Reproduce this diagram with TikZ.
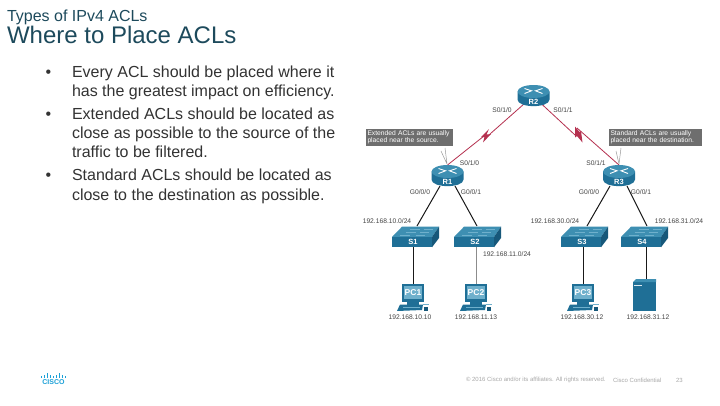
\documentclass[tikz,border=0pt]{standalone}
\usepackage{fontspec}
\setmainfont{Liberation Sans}
\definecolor{devtop}{HTML}{3E8FB2}
\definecolor{devmid}{HTML}{1F6F96}
\definecolor{devdark}{HTML}{17587A}
\definecolor{devlite}{HTML}{6FB0CC}
\definecolor{wan}{HTML}{B5304F}
\definecolor{notegray}{HTML}{6E6E6E}
\definecolor{bodytxt}{HTML}{333333}
\definecolor{titletxt}{HTML}{1D4A5C}
\definecolor{lbl}{HTML}{444444}
\definecolor{cisco}{HTML}{1BA0D7}
\definecolor{foot}{HTML}{A8A8A8}
\tikzset{
  every node/.style={inner sep=0pt,outer sep=0pt},
  titlea/.style={anchor=base west,font=\fontsize{16}{18}\selectfont,text=titletxt},
  titleb/.style={anchor=base west,font=\fontsize{24}{26}\selectfont,text=titletxt},
  bodytext/.style={anchor=base west,font=\fontsize{16}{19}\selectfont,text=bodytxt},
  devlabel/.style={font=\bfseries\fontsize{7.5}{8}\selectfont,text=white},
  pclabel/.style={font=\bfseries\fontsize{8.5}{9}\selectfont,text=white},
  iflabel/.style={font=\fontsize{6.7}{8}\selectfont,text=lbl},
  notetext/.style={fill=notegray,text=white,align=left,font=\fontsize{6.7}{7.6}\selectfont,inner xsep=1.5pt,inner ysep=1.5pt,anchor=north west},
  lan/.style={line width=1pt,black!90},
  lanlite/.style={line width=1pt,black!45},
  wanlink/.style={line width=0.8pt,wan},
  pointer/.style={line width=0.5pt,black!40},
  footnote/.style={anchor=west,font=\fontsize{6}{7}\selectfont,text=foot},
}
\newcommand{\routerdev}[3]{% name, cx, cy
  \begin{scope}[shift={(#2,#3)}]
    \fill[devmid] (-16,-4) -- (-16,4) .. controls (-16,12.8) and (16,12.8) .. (16,4) -- (16,-4) -- cycle;
    \fill[devtop] (0,-4) ellipse[x radius=16,y radius=6.5];
    \draw[white,line width=0.9pt] (-9,-7) -- (-2,-4.7) -- (-9,-2) (9,-7) -- (2,-4.7) -- (9,-2);
    \node[devlabel] (#1) at (0,6) {#1};
  \end{scope}}
\newcommand{\switchdev}[3]{% name, cx, cy (front face top level)
  \begin{scope}[shift={(#2,#3)}]
    \fill[devtop] (-23.5,0) -- (-13.5,-10.3) -- (23.5,-10.3) -- (16.5,0) -- cycle;
    \fill[devdark] (16.5,0) -- (23.5,-10.3) -- (23.5,1) -- (16.5,10.3) -- cycle;
    \fill[devmid] (-23.5,0) rectangle (16.5,10.3);
    \draw[devlite,line width=1pt] (-16,-2) -- (-6,-2) (-10,-5) -- (0,-5) (-6,-8) -- (4,-8) (0,-2) -- (9,-2) (4,-5) -- (13,-5) (8,-8) -- (17,-8);
    \node[devlabel] (#1) at (-2.5,4.9) {#1};
  \end{scope}}
\newcommand{\pcdev}[3]{% name, cx, top
  \begin{scope}[shift={(#2,#3)}]
    \fill[devmid] (-11,0) rectangle (11,18);
    \fill[devlite] (-9,2) rectangle (9,14.5);
    \fill[devmid] (-6,18) rectangle (6,20.5);
    \fill[devmid] (-13,20.5) -- (10,20.5) -- (9,26) -- (-16,27) -- cycle;
    \fill[devdark] (11,23) rectangle (15,27);
    \draw[devlite,line width=0.4pt] (10,20) -- (16,20);
    \draw[devlite,line width=0.5pt] (-10,23.5) -- (7,23.5);
    \node[pclabel] (#1) at (0,8.5) {#1};
  \end{scope}}
\begin{document}
\begin{tikzpicture}[x=1pt,y=-1pt]
\useasboundingbox[fill=white] (0,0) rectangle (720,405);

% titles
\node[titlea] (t1) at (7,21.500) {Types of IPv4 ACLs};
\node[titleb] (t2) at (7,43.500) {Where to Place ACLs};

% body
\node[bodytext] (b1) at (72,77) {Every ACL should be placed where it};
\node[bodytext] (b2) at (72,96.500) {has the greatest impact on efficiency.};
\node[bodytext] (b3) at (72,119) {Extended ACLs should be located as};
\node[bodytext] (b4) at (72,138) {close as possible to the source of the};
\node[bodytext] (b5) at (72,157) {traffic to be filtered.};
\node[bodytext] (b6) at (72,180) {Standard ACLs should be located as};
\node[bodytext] (b7) at (72,200) {close to the destination as possible.};
\node[bodytext] (d1) at (45.500,77) {•};
\node[bodytext] (d2) at (45.500,119) {•};
\node[bodytext] (d3) at (45.500,180) {•};

% anchors for links
\coordinate (cR2) at (533,96);
\coordinate (cR1) at (447.5,165);
\coordinate (cR3) at (619,165);
\coordinate (bR1a) at (440,186);
\coordinate (bR1b) at (455,186);
\coordinate (bR3a) at (610,186);
\coordinate (bR3b) at (627,186);
\coordinate (tS1) at (417,226);
\coordinate (tS2) at (477,226);
\coordinate (tS3) at (587,226);
\coordinate (tS4) at (647,226);
\coordinate (bS1) at (413,247);
\coordinate (bS2) at (476,247);
\coordinate (bS3) at (583,247);
\coordinate (bS4) at (646,247);
\coordinate (tP1) at (413,284);
\coordinate (tP2) at (476,284);
\coordinate (tP3) at (583,284);
\coordinate (tS) at (646,280);

% wired links
\draw[lan] (bR1a) -- (tS1);
\draw[lan] (bR1b) -- (tS2);
\draw[lan] (bR3a) -- (tS3);
\draw[lan] (bR3b) -- (tS4);
\draw[lan] (bS1) -- (tP1);
\draw[lanlite] (bS2) -- (tP2);
\draw[lan] (bS3) -- (tP3);
\draw[lan] (bS4) -- (tS);

% WAN links
\coordinate (z1a) at (490,134);
\coordinate (z1b) at (484,136);
\coordinate (z2a) at (575,135);
\coordinate (z2b) at (577,128);
\draw[wanlink] (cR2) -- (z1a);
\fill[wan] (489,129) -- (486.5,134.500) -- (491,134) -- (483,142.500) -- (484.500,137) -- (481,137) -- cycle;
\draw[wanlink] (z1b) -- (cR1);
\draw[wanlink] (cR2) -- (z2a);
\fill[wan] (575,126.500) -- (579.500,132) -- (581,131) -- (582.500,142.500) -- (577,136) -- (575,137.500) -- cycle;
\draw[wanlink] (z2b) -- (cR3);

% pointers
\draw[pointer] (441,151) -- (447,164) (445,148) -- (447,164);
\draw[pointer] (621,148) -- (619,164) (616,151) -- (619,164);

% devices
\routerdev{R2}{533.500}{95.500}
\routerdev{R1}{447.500}{175.500}
\routerdev{R3}{619}{175.500}
\switchdev{S1}{415.500}{237}
\switchdev{S2}{477.500}{237}
\switchdev{S3}{584.500}{237}
\switchdev{S4}{644.500}{237}
\pcdev{PC1}{413}{284}
\pcdev{PC2}{476}{284}
\pcdev{PC3}{583}{284}

% server
\fill[devmid] (633,282) rectangle (656,311);
\fill[devtop] (633,282) -- (636,279) -- (656,279) -- (656,282) -- cycle;
\draw[white!85!devmid,line width=1pt] (634,285) -- (642,285);

% notes
\node[notetext,text width=84pt] (n1) at (366,129) {Extended ACLs are usually\\placed near the source.};
\node[notetext,text width=90pt] (n2) at (609,129) {Standard ACLs are usually\\placed near the destination.};

% labels
\node[iflabel] (l1) at (502,110) {S0/1/0};
\node[iflabel] (l2) at (469.500,163) {S0/1/0};
\node[iflabel] (l3) at (563,110) {S0/1/1};
\node[iflabel] (l4) at (596,163) {S0/1/1};
\node[iflabel] (l5) at (420,192) {G0/0/0};
\node[iflabel] (l6) at (471,192) {G0/0/1};
\node[iflabel] (l7) at (589,192) {G0/0/0};
\node[iflabel] (l8) at (641,192) {G0/0/1};
\node[iflabel] (a1) at (387,221) {192.168.10.0/24};
\node[iflabel] (a2) at (507,254) {192.168.11.0/24};
\node[iflabel] (a3) at (555,221) {192.168.30.0/24};
\node[iflabel] (a4) at (679,221) {192.168.31.0/24};
\node[iflabel] (h1) at (410,317) {192.168.10.10};
\node[iflabel] (h2) at (476,317) {192.168.11.13};
\node[iflabel] (h3) at (582,317) {192.168.30.12};
\node[iflabel] (h4) at (648,317) {192.168.31.12};

% cisco logo
\foreach \x/\h in {41.5/1.5,44.5/3,47.5/5,50.5/3,53.5/1.5,56.5/3,59.5/5,62.5/3,65.5/1.5}
  \draw[cisco,line width=1.7pt] (\x,377.500) -- ++(0,-\h);
\node[font=\bfseries\fontsize{7}{8}\selectfont,text=cisco] (logo) at (53.500,382.500) {CISCO};

% footer
\node[footnote] (f1) at (466,380) {© 2016 Cisco and/or its affiliates. All rights reserved.};
\node[footnote] (f2) at (613,380) {Cisco Confidential};
\node[footnote] (f3) at (676,380) {23};
\end{tikzpicture}
\end{document}
